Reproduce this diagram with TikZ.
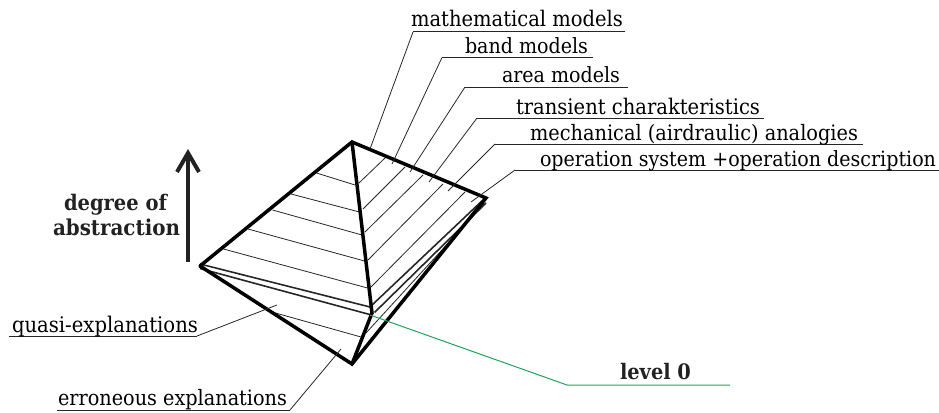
\documentclass[tikz,border=0pt]{standalone}
\usepackage{fontspec}
\setmainfont{DejaVu Serif}
\usetikzlibrary{calc}
\definecolor{greenline}{HTML}{1FA35C}
\definecolor{darkink}{HTML}{222222}
\tikzset{
  px/.style={x=1pt,y=-1pt},
  edgeline/.style={line width=3.5pt,line join=miter,line cap=round},
  hatchline/.style={line width=0.8pt,black!85},
  doubleline/.style={line width=1.6pt,black!85},
  leaderline/.style={line width=0.8pt,black!85},
  underline/.style={line width=1pt,black!85},
  lab/.style={inner sep=0pt,outer sep=0pt,anchor=base west,font=\fontsize{20}{24}\selectfont},
  boldlab/.style={lab,font=\fontsize{20}{24}\selectfont\bfseries,text=darkink},
}
\newcommand{\fit}[2]{\scalebox{1}[1.1]{\resizebox{#1pt}{!}{#2}}}
\begin{document}
\begin{tikzpicture}[px]
\useasboundingbox (0,0) rectangle (939,412);
% pyramid corners
\coordinate (apex) at (352,142);
\coordinate (right) at (486,198);
\coordinate (left) at (200,266);
\coordinate (centre) at (372,313);
\coordinate (bottom) at (352,364);
% left face hatching
\foreach \n/\a/\b/\c/\d in {1/316.5/173/355/185,2/291/194/359.5/212,3/272.5/210/362/235,4/248/229/364.5/261,5/223.5/249/367.5/288,6/272/312/361/337}{
  \coordinate (lh\n a) at (\a,\b);
  \coordinate (lh\n b) at (\c,\d);
  \draw[hatchline] (lh\n a) -- (lh\n b);
}
% right face hatching
\foreach \n/\a/\b/\c/\d in {1/359/183/385/158,2/363/209/405/167,3/365/232/423/175,4/368/260/443/184,5/371/287/465/192}{
  \coordinate (rh\n a) at (\a,\b);
  \coordinate (rh\n b) at (\c,\d);
  \draw[hatchline] (rh\n a) -- (rh\n b);
}
% double lines
\coordinate (dl1) at (200,264); \coordinate (dc1) at (372,307.5);
\coordinate (dl2) at (200,268.5); \coordinate (dc2) at (371.5,315);
\coordinate (dr1) at (484,199); \coordinate (dc3) at (370.5,306.5);
\coordinate (dr2) at (486,203); \coordinate (dc4) at (374.5,312.5);
\coordinate (thinb) at (366,333); \coordinate (thinr) at (484,204);
\draw[doubleline] (dl1) -- (dc1);
\draw[doubleline] (dl2) -- (dc2);
\draw[doubleline] (dr1) -- (dc3);
\draw[doubleline] (dr2) -- (dc4);
\draw[hatchline] (thinb) -- (thinr);
% pyramid edges
\draw[edgeline] (left) -- (apex) -- (right) -- (bottom) -- (left);
\draw[edgeline] (apex) -- (centre) -- (bottom);
% green level line
\coordinate (g0) at (370,315);
\coordinate (g1) at (567,385);
\coordinate (g2) at (730,385);
\draw[greenline,line width=1pt] (g0) -- (g1) -- (g2);
% top labels
\foreach \n/\xa/\xb/\y/\ex/\ey in {
  m/413/625/32/370/149,
  b/442/593/57.5/392/164,
  a/465/628/87/410/172,
  t/477/764/118/429/182,
  h/495/863/144/448/191,
  o/515/939/170/471/202}{
  \coordinate (\n s) at (\xa,\y);
  \coordinate (\n e) at (\xb,\y);
  \coordinate (\n t) at (\ex,\ey);
  \draw[underline] (\n e) -- (\n s);
  \draw[leaderline] (\n s) -- (\n t);
}
\node[lab] (lm) at (411,27) {\fit{212}{mathematical models}};
\node[lab] (lb) at (465,54) {\fit{123}{band models}};
\node[lab] (la) at (502,82) {\fit{118}{area models}};
\node[lab] (ltr) at (516,114) {\fit{244}{transient charakteristics}};
\node[lab] (lh) at (530,140) {\fit{328}{mechanical (airdraulic) analogies}};
\node[lab] (lo) at (540,166) {\fit{396}{operation system +operation description}};
% lower labels
\coordinate (qa) at (9,336); \coordinate (qb) at (197,336); \coordinate (qc) at (277,305);
\draw[underline] (qa) -- (qb);
\draw[leaderline] (qb) -- (qc);
\node[lab] (lq) at (12,332) {\fit{186}{quasi-explanations}};
\coordinate (ea) at (57,410); \coordinate (eb) at (290,410); \coordinate (ec) at (341,349);
\draw[underline] (ea) -- (eb);
\draw[leaderline] (eb) -- (ec);
\node[lab] (le) at (58,405) {\fit{229}{erroneous explanations}};
\node[boldlab] (l0) at (620,379) {\fit{71}{level 0}};
% abstraction
\node[boldlab] (ld) at (64,210) {\fit{103}{degree of}};
\node[boldlab] (ls) at (53,235) {\fit{127}{abstraction}};
\coordinate (ar0) at (188,262); \coordinate (ar1) at (188,153);
\coordinate (arl) at (177,172); \coordinate (arr) at (199,172);
\draw[darkink,line width=4.8pt] (ar0) -- (ar1);
\draw[darkink,line width=4pt,line join=miter] (arl) -- (ar1) -- (arr);
\end{tikzpicture}
\end{document}
